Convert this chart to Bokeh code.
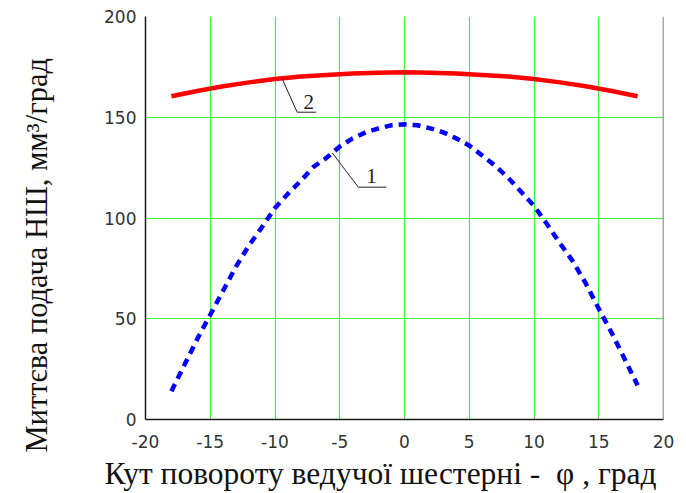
import numpy as np
from bokeh.plotting import figure
from bokeh.models import FixedTicker, Span, Title
from bokeh.core.properties import value
from bokeh.embed import file_html
from bokeh.resources import INLINE

# Curve 1: instantaneous delivery, dashed blue (mm^3/deg vs angle, deg)
phi_1 = list(range(-18, 19))
q_1 = [14, 27, 40, 52, 64, 76, 86.5, 95.5, 105, 112, 118.5, 125.5, 130,
       135.5, 139.5, 142.5, 144.5, 146, 146.5, 146, 144.5, 142.5, 139.5,
       136, 131, 126, 120, 113, 106, 97, 87.5, 78.5, 67.5, 55, 43, 30, 17]

# Curve 2: instantaneous delivery, solid red
phi_2 = list(range(-18, 19, 2))
q_2 = [160.4, 163, 165.4, 167.3, 169, 170.2, 171, 171.7, 172.1, 172.3,
       172.1, 171.7, 171, 170.2, 169, 167.3, 165.4, 163, 160.4]

x_ticks = [-20, -15, -10, -5, 0, 5, 10, 15, 20]
x_tick_labels = ["-20", "-15", "-10", "-5", "0", "5", "10", "15", "20"]
y_ticks = [0, 50, 100, 150, 200]
y_tick_labels = ["0", "50", "100", "150", "200"]

x_title = "Кут повороту ведучої шестерні -\u00a0 φ , град"
y_title = "Миттєва подача НШ, мм³/град"

SERIF = "Liberation Serif"
SANS = "DejaVu Sans"
GRID = "#3cf03c"

p = figure(width=686, height=493, x_range=(-20, 20), y_range=(0, 200),
           output_backend="svg", toolbar_location=None,
           min_border_left=145, min_border_right=23,
           min_border_top=16, min_border_bottom=73)
p.background_fill_color = "white"
p.border_fill_color = "white"
p.outline_line_color = None

# axes
p.xaxis.ticker = FixedTicker(ticks=x_ticks)
p.xaxis.major_label_overrides = dict(zip(x_ticks, x_tick_labels))
p.yaxis.ticker = FixedTicker(ticks=y_ticks)
p.yaxis.major_label_overrides = dict(zip(y_ticks, y_tick_labels))
for ax in (p.xaxis, p.yaxis):
    ax.axis_line_color = "#1a1a1a"
    ax.axis_line_width = 1.5
    ax.major_tick_line_color = None
    ax.minor_tick_line_color = None
    ax.major_label_text_font = SANS
    ax.major_label_text_font_size = "17px"
    ax.major_label_text_color = "#333333"
p.xaxis.major_label_standoff = 9
p.yaxis.major_label_standoff = 3

# grid
p.xgrid.ticker = FixedTicker(ticks=x_ticks)
p.ygrid.ticker = FixedTicker(ticks=y_ticks)
for g in (p.xgrid, p.ygrid):
    g.grid_line_color = GRID
    g.grid_line_width = 1.2

# right frame edge
p.add_layout(Span(location=20, dimension="height", line_color="#555555",
                  line_width=1.5))

# curves
p.line(phi_2, q_2, line_color="#ff0000", line_width=4.5)
p.line(phi_1, q_1, line_color="#0000ff", line_width=4.5, line_dash="8 6")

# numbered leader callouts, anchored on the curves
lead_2 = (-9.46, -8.29, -6.82, 152.5)
lead_1 = (-5.58, -3.57, -1.40, 115.3)
for (xa, xb, xc, yb), (px, py) in ((lead_2, (phi_2, q_2)), (lead_1, (phi_1, q_1))):
    ya = float(np.interp(xa, px, py))
    p.line([xa, xb, xc], [ya, yb, yb], line_color="#222222", line_width=1)

p.text(x=[-7.8, -2.95], y=[157.5, 121.0], text=["2", "1"],
       text_font=value(SERIF), text_font_size="21px", text_color="#222222",
       text_align="left", text_baseline="alphabetic")

# axis titles; the y title carries an empty second line as spacing
p.add_layout(Title(text=x_title, align="left", offset=-41, standoff=6,
                   text_font=SERIF, text_font_size="31.5px",
                   text_font_style="normal", text_color="#111111"), "below")
p.add_layout(Title(text=y_title + "\n", align="left", offset=-33, standoff=28,
                   text_font=SERIF, text_font_size="30.5px",
                   text_font_style="normal", text_color="#111111"), "left")

open("out.html", "w").write(file_html(p, INLINE))
